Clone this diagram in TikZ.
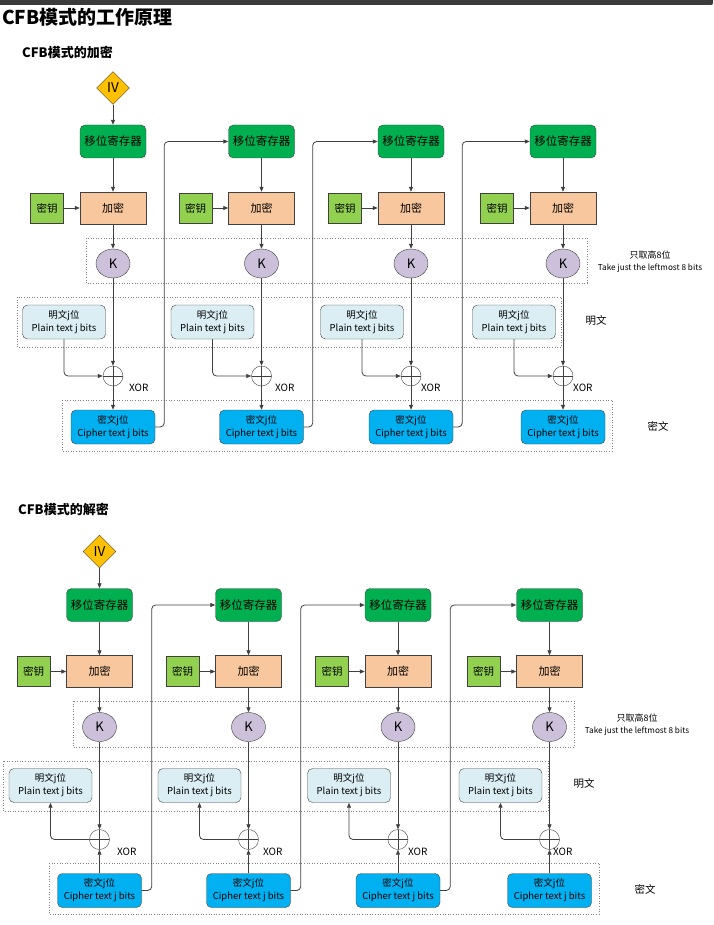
\documentclass[tikz,border=0pt]{standalone}
\usepackage{fontspec}
\setmainfont{Noto Sans CJK SC}
\usetikzlibrary{arrows.meta,shapes.geometric,positioning}
\definecolor{RegGreen}{RGB}{0,176,80}
\definecolor{EncPeach}{RGB}{248,199,158}
\definecolor{KeyGreen}{RGB}{146,208,80}
\definecolor{KLilac}{RGB}{204,192,218}
\definecolor{PlainBlue}{RGB}{218,238,243}
\definecolor{CipherBlue}{RGB}{0,176,240}
\definecolor{IVGold}{RGB}{255,192,0}
\definecolor{EdgeGray}{RGB}{64,64,64}
\definecolor{BarGray}{RGB}{59,59,59}

\begin{document}
\begin{tikzpicture}[
  x=1pt, y=-1pt,
  reg/.style={
    rectangle, draw=EdgeGray, fill=RegGreen, rounded corners=5pt,
    minimum width=66pt, minimum height=33pt, inner sep=0pt,
    font=\fontsize{11.5}{12}\selectfont
  },
  enc/.style={
    rectangle, draw=EdgeGray, fill=EncPeach,
    minimum width=66pt, minimum height=32pt, inner sep=0pt,
    font=\fontsize{11}{12}\selectfont
  },
  key/.style={
    rectangle, draw=EdgeGray, fill=KeyGreen,
    minimum width=33pt, minimum height=30pt, inner sep=0pt,
    font=\fontsize{10.5}{12}\selectfont
  },
  kbits/.style={
    ellipse, draw=EdgeGray, fill=KLilac,
    minimum width=34pt, minimum height=29pt, inner sep=0pt,
    font=\fontsize{13}{14}\selectfont
  },
  plain/.style={
    rectangle, draw=EdgeGray, fill=PlainBlue, rounded corners=5pt,
    minimum width=83pt, minimum height=34pt, inner sep=0pt,
    align=center, font=\fontsize{9.5}{13}\selectfont
  },
  ciph/.style={
    rectangle, draw=EdgeGray, fill=CipherBlue, rounded corners=5pt,
    minimum width=84pt, minimum height=34pt, inner sep=0pt,
    align=center, font=\fontsize{9.5}{13}\selectfont
  },
  iv/.style={
    diamond, draw=EdgeGray, fill=IVGold,
    minimum width=33pt, minimum height=33pt, inner sep=0pt,
    font=\fontsize{13.5}{14}\selectfont
  },
  xorop/.style={
    circle, draw=EdgeGray, minimum size=20pt, inner sep=0pt,
    path picture={
      \draw[EdgeGray] (path picture bounding box.north) -- (path picture bounding box.south)
                      (path picture bounding box.west) -- (path picture bounding box.east);
    }
  },
  xorlbl/.style={anchor=west, inner sep=0pt, font=\fontsize{10}{12}\selectfont},
  zone/.style={draw=gray, dotted, line width=0.6pt},
  note/.style={align=center, inner sep=0pt},
  head/.style={anchor=west, inner sep=0pt, font=\fontsize{13}{14}\selectfont\bfseries},
  arr/.style={-{Triangle[length=5pt,width=4pt]}, EdgeGray, line width=0.8pt}
]
\useasboundingbox (0,0) rectangle (713,925);

% ---- Header ----
\fill[BarGray] (0,0) -- (713,0) -- (713,1) .. controls (713,5) .. (708,5) -- (0,5) -- cycle;
\node[anchor=west, inner sep=0pt, font=\fontsize{19}{20}\selectfont\bfseries] (title) at (2,17) {CFB模式的工作原理};

% ---- Encryption ----
\node[head] (enchead) at (22,52) {CFB模式的加密};

\draw[zone] (86,238) rectangle (587,283);
\draw[zone] (17,297) rectangle (561,347);
\draw[zone] (62,400) rectangle (612,451);

\node[iv] (eiv) at (113,88) {IV};

\foreach \i/\x/\xo in {1/113/16, 2/261.5/13.5, 3/411/10, 4/563/10}{
  \node[reg]   (ereg\i) at (\x,141.5)   {移位寄存器};
  \node[enc]   (eenc\i) at (\x,208)     {加密};
  \node[key]   (ekey\i) at (\x-66,208)  {密钥};
  \node[kbits] (ek\i)   at (\x,263.5)   {K};
  \node[plain] (epl\i)  at (\x-49,322)  {明文j位\\Plain text j bits};
  \node[xorop] (exor\i) at (\x,376)     {};
  \node[xorlbl] (exl\i) at (\x+\xo,388) {XOR};
  \node[ciph]  (ecip\i) at (\x,427)     {密文j位\\Cipher text j bits};

  \draw[arr] (ereg\i) -- (eenc\i);
  \draw[arr] (ekey\i) -- (eenc\i);
  \draw[arr] (eenc\i) -- (ek\i);
  \draw[arr] (ek\i)   -- (exor\i);
  \draw[arr] (exor\i) -- (ecip\i);
  \draw[arr, rounded corners=4pt] (epl\i.south) |- (exor\i.west);
}
\draw[arr] (eiv) -- (ereg1);
\foreach \i/\j in {1/2, 2/3, 3/4}
  \draw[arr, rounded corners=4pt] (ecip\i.east) -- ++(9,0) |- (ereg\j.west);

\node[note] (etake)  at (650,261.5) {\fontsize{9}{11}\selectfont 只取高8位\\\fontsize{8.2}{11}\selectfont Take just the leftmost 8 bits};
\node[note, font=\fontsize{10.5}{12}\selectfont] (eplain) at (596,321) {明文};
\node[note, font=\fontsize{10.5}{12}\selectfont] (ecipher) at (658,426) {密文};

% ---- Decryption ----
\node[head] (dechead) at (18,509) {CFB模式的解密};

\draw[zone] (73,701) rectangle (574,747);
\draw[zone] (3,761) rectangle (548,811);
\draw[zone] (49,863) rectangle (599,914);

\node[iv] (div) at (99.5,551.5) {IV};

\foreach \i/\x/\xo in {1/99.5/17.5, 2/248.5/14.5, 3/398/10, 4/549.5/3.5}{
  \node[reg]   (dreg\i) at (\x,605)     {移位寄存器};
  \node[enc]   (denc\i) at (\x,671.5)   {加密};
  \node[key]   (dkey\i) at (\x-66,671.5) {密钥};
  \node[kbits] (dk\i)   at (\x,727)     {K};
  \node[plain] (dpl\i)  at (\x-49,785.5) {明文j位\\Plain text j bits};
  \node[xorop] (dxor\i) at (\x,839.5)   {};
  \node[xorlbl] (dxl\i) at (\x+\xo,851.5) {XOR};
  \node[ciph]  (dcip\i) at (\x,890.5)   {密文j位\\Cipher text j bits};

  \draw[arr] (dreg\i) -- (denc\i);
  \draw[arr] (dkey\i) -- (denc\i);
  \draw[arr] (denc\i) -- (dk\i);
  \draw[arr] (dk\i)   -- (dxor\i);
  \draw[arr] (dcip\i) -- (dxor\i);
  \draw[arr, rounded corners=4pt] (dxor\i.west) -| (dpl\i.south);
}
\draw[arr] (div) -- (dreg1);
\foreach \i/\j in {1/2, 2/3, 3/4}
  \draw[arr, rounded corners=4pt] (dcip\i.east) -- ++(10,0) |- (dreg\j.west);

\node[note] (dtake)  at (637,724.5) {\fontsize{9}{11}\selectfont 只取高8位\\\fontsize{8.2}{11}\selectfont Take just the leftmost 8 bits};
\node[note, font=\fontsize{10.5}{12}\selectfont] (dplain) at (584,784) {明文};
\node[note, font=\fontsize{10.5}{12}\selectfont] (dcipher) at (645,889) {密文};

\end{tikzpicture}
\end{document}
